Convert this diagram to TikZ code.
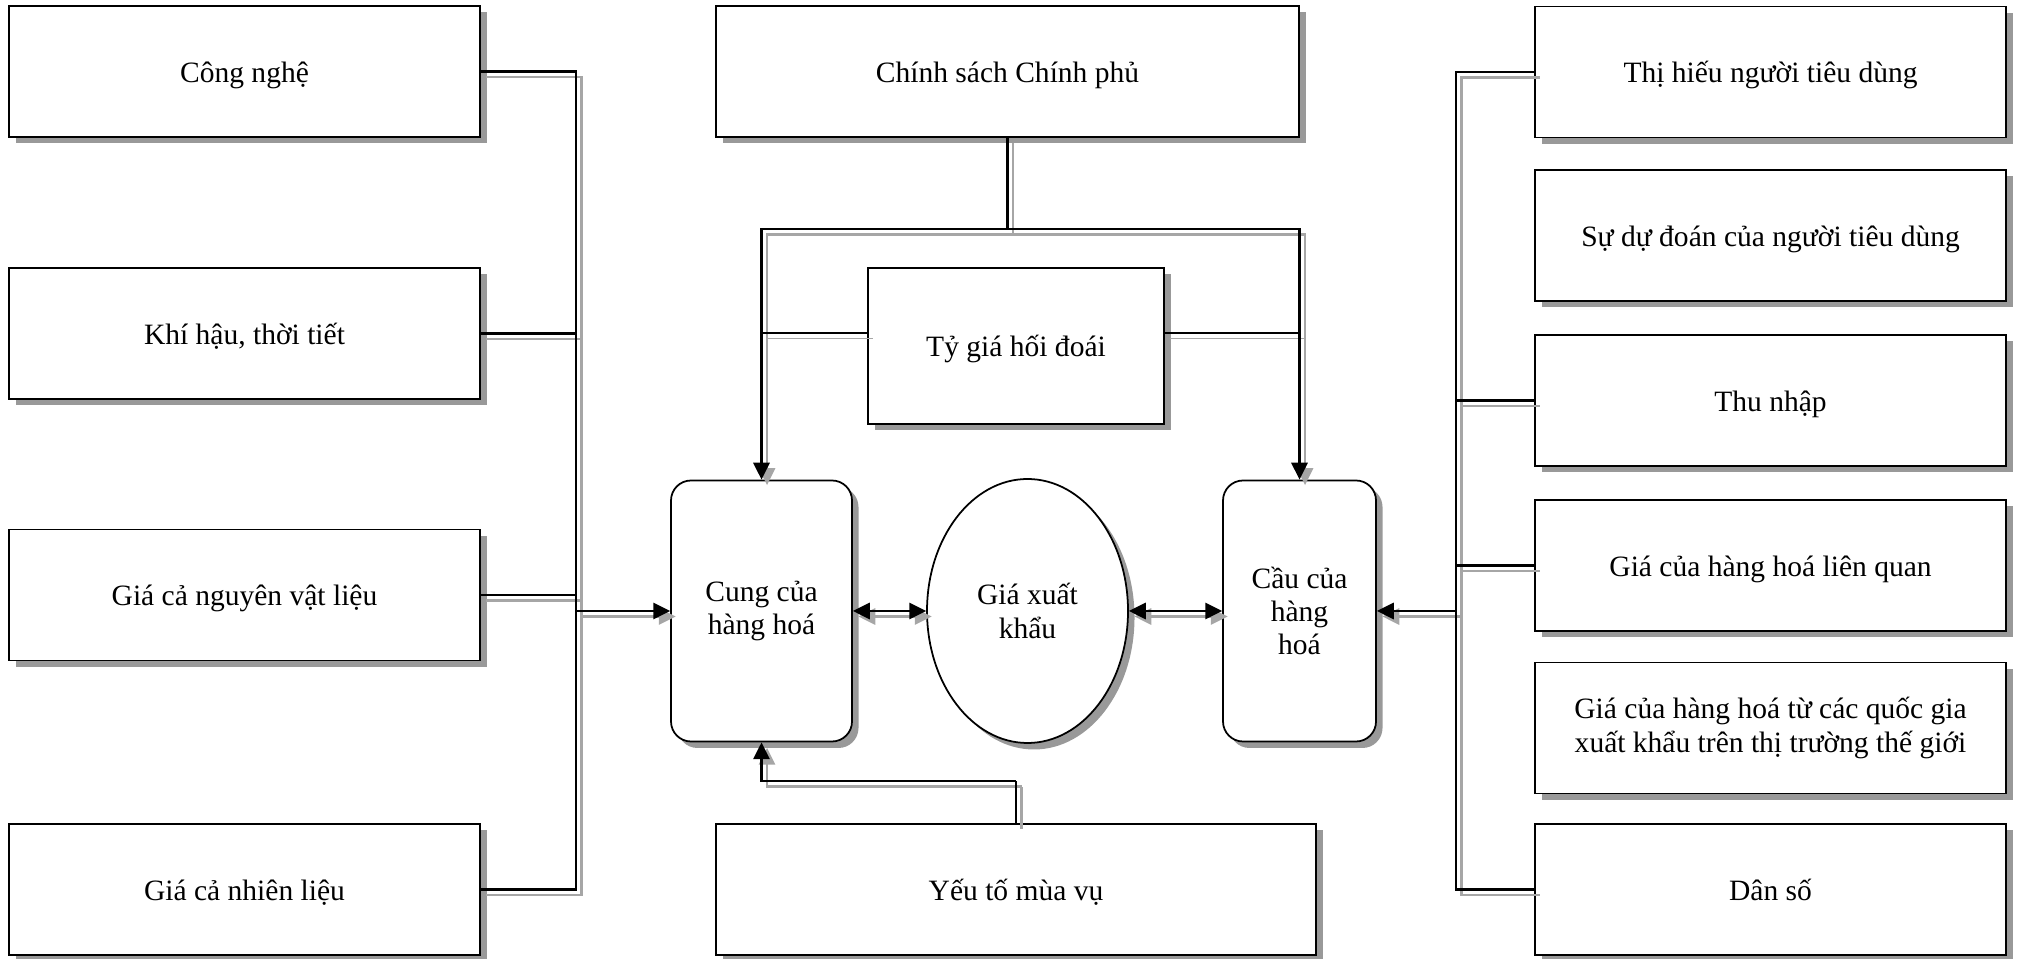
\documentclass[tikz,border=0pt]{standalone}
\usepackage{fontspec}
\setmainfont{Liberation Serif}
\usetikzlibrary{shapes, shapes.geometric, arrows.meta, positioning, shadows, calc}

\newcommand{\links}{%
	\draw [link] (cong) -| (lb);
	\draw [link] (khi) -| (lb);
	\draw [link] (ngl) -| (lb);
	\draw [link] (nhl) -| (lb);
	\draw [link,->] (lb) -- (cung);
	\draw [link] (thi) -| (rb);
	\draw [link] (thu) -| (rb);
	\draw [link] (lqu) -| (rb);
	\draw [link] (dso) -| (rb);
	\draw [link,->] (rb) -- (cau);
	\draw [link] (csc) -- (tj);
	\draw [link,->] (tj) -| (cung);
	\draw [link,->] (tj) -| (cau);
	\draw [thin link] (tl) -- (tl -| cung);
	\draw [thin link] (tr) -- (tr -| cau);
	\draw [link] (mva) -- (mj);
	\draw [link,->] (mj) -| (cung);
	\draw [link,<->] (cung) -- (gia);
	\draw [link,<->] (gia) -- (cau);
}

\begin{document}
\begin{tikzpicture}[
		>={Triangle[length=4.8pt,width=4.6pt]},
		box/.style={draw,rectangle,fill=white,line width=.5pt,align=center,minimum width=4.71cm,minimum height=1.31cm,text height=6.5pt,text depth=.5pt,font=\fontsize{8.4}{9.5}\selectfont,drop shadow={shadow xshift=.065cm,shadow yshift=-.065cm,fill=black!40,opacity=1}},
		multi/.style={text height={},text depth={}},
		rbox/.style={box,multi,rounded corners=.2cm,minimum height=2.61cm},
		ell/.style={box,multi,ellipse,minimum width=2.01cm,minimum height=2.64cm,inner sep=0pt},
		link/.style={line width=.7pt},
		thin link/.style={line width=.4pt}]
		\useasboundingbox (0,0) rectangle (20.19,9.59);
		\node (cong) [box] at (2.445,8.875) {Công nghệ};
		\node (khi) [box] at (2.445,6.255) {Khí hậu, thời tiết};
		\node (ngl) [box] at (2.445,3.64) {Giá cả nguyên vật liệu};
		\node (nhl) [box] at (2.445,0.695) {Giá cả nhiên liệu};
		\node (thi) [box] at (17.705,8.87) {Thị hiếu người tiêu dùng};
		\node (dud) [box] at (17.705,7.235) {Sự dự đoán của người tiêu dùng};
		\node (thu) [box] at (17.705,5.585) {Thu nhập};
		\node (lqu) [box] at (17.705,3.935) {Giá của hàng hoá liên quan};
		\node (qgi) [box,multi] at (17.705,2.31) {Giá của hàng hoá từ các quốc gia\\xuất khẩu trên thị trường thế giới};
		\node (dso) [box] at (17.705,0.695) {Dân số};
		\node (csc) [box,minimum width=5.83cm] at (10.075,8.875) {Chính sách Chính phủ};
		\node (tyg) [box,minimum width=2.96cm,minimum height=1.56cm] at (10.16,6.13) {Tỷ giá hối đoái};
		\node (mva) [box,minimum width=6cm] at (10.16,0.695) {Yếu tố mùa vụ};
		\node (cung) [rbox,minimum width=1.81cm] at (7.615,3.48) {Cung của\\hàng hoá};
		\node (gia) [ell] at (10.275,3.48) {Giá xuất\\khẩu};
		\node (cau) [rbox,minimum width=1.53cm] at (12.995,3.48) {Cầu của\\hàng\\hoá};
		\coordinate (lb) at (5.76,3.48);
		\coordinate (rb) at (14.56,3.48);
		\coordinate [below=.91cm of csc] (tj);
		\coordinate [above=.42cm of mva] (mj);
		\coordinate (tl) at ([yshift=1.3mm]tyg.west);
		\coordinate (tr) at ([yshift=1.3mm]tyg.east);
		\begin{scope}[transform canvas={shift={(.055,-.055)}},black!35]
			\links
		\end{scope}
		\links
	\end{tikzpicture}
\end{document}
